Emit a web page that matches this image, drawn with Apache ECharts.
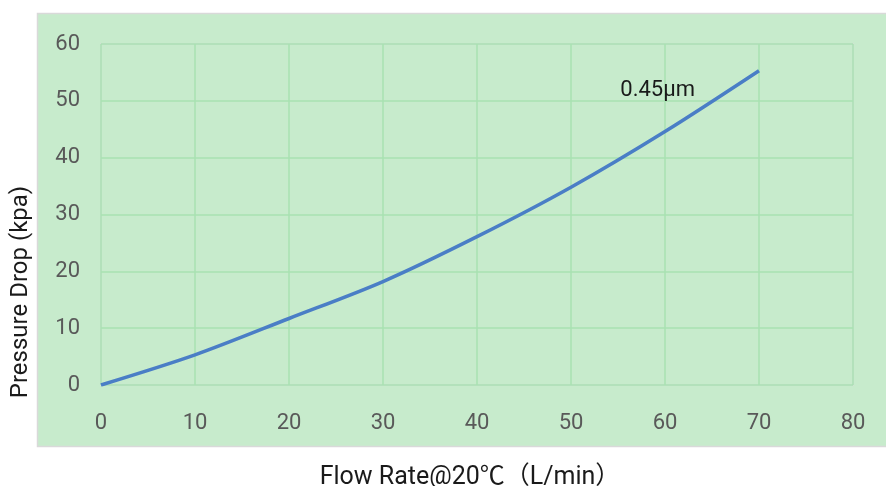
<!DOCTYPE html>
<html>
<head>
<meta charset="utf-8">
<script src="https://cdn.jsdelivr.net/npm/echarts@6/dist/echarts.min.js"></script>
<style>
html,body{margin:0;padding:0;background:#ffffff;}
#chart{width:886px;height:486px;}
</style>
</head>
<body>
<div id="chart"></div>
<script>
const seriesName = '0.45μm';
const flowRate = [0, 10, 20, 30, 40, 50, 60, 70];
const pressureDrop = [0, 5.3, 11.7, 18.2, 26.1, 34.8, 44.6, 55.3];
const xTicks = [0, 10, 20, 30, 40, 50, 60, 70, 80];
const yTicks = [0, 10, 20, 30, 40, 50, 60];
const xAxisName = 'Flow Rate@20℃（L/min）';
const yAxisName = 'Pressure Drop (kpa)';

const fontFam = 'Roboto, "Noto Sans CJK SC", sans-serif';
const lastIdx = flowRate.length - 1;
const data = flowRate.map((x, i) => {
  const item = { value: [x, pressureDrop[i]] };
  if (i === lastIdx) {
    item.label = {
      show: true,
      formatter: seriesName,
      position: 'left',
      distance: 64,
      offset: [0, 20],
      color: '#1a1a1a',
      fontSize: 22,
      fontFamily: fontFam
    };
  }
  return item;
});

const chart = echarts.init(document.getElementById('chart'), null, { renderer: 'canvas' });
chart.setOption({
  animation: false,
  backgroundColor: '#ffffff',
  graphic: {
    elements: [{
      type: 'rect',
      z: -10,
      silent: true,
      shape: { x: 37.5, y: 13.5, width: 870, height: 433 },
      style: { fill: '#c7ebcc', stroke: '#d9d9d9', lineWidth: 1.5 }
    }, {
      type: 'text',
      silent: true,
      x: 21, y: 292,
      rotation: Math.PI / 2,
      style: {
        text: yAxisName, fill: '#1a1a1a', fontSize: 24, fontFamily: fontFam,
        align: 'center', verticalAlign: 'middle'
      }
    }]
  },
  grid: {
    left: 101, right: 33, top: 44, bottom: 101,
    outerBoundsMode: 'none',
    containLabel: false,
    show: true, borderColor: '#d9d9d9', borderWidth: 1.5, backgroundColor: 'transparent'
  },
  xAxis: {
    type: 'value',
    min: xTicks[0], max: xTicks[xTicks.length - 1], interval: 10,
    name: xAxisName,
    nameLocation: 'middle',
    nameGap: 80,
    nameTextStyle: { color: '#1a1a1a', fontSize: 25, fontFamily: fontFam, padding: [0, 14, 0, 0] },
    axisLine: { show: false },
    axisTick: { show: false },
    axisLabel: { color: '#595959', fontSize: 22, fontFamily: fontFam, margin: 27 },
    splitLine: { show: true, lineStyle: { color: '#a8e2b2', width: 1.5 } }
  },
  yAxis: {
    type: 'value',
    min: yTicks[0], max: yTicks[yTicks.length - 1], interval: 10,
    axisLine: { show: false },
    axisTick: { show: false },
    axisLabel: { color: '#595959', fontSize: 22, fontFamily: fontFam, margin: 21, padding: [6, 0, 0, 0] },
    splitLine: { show: true, lineStyle: { color: '#a8e2b2', width: 1.5 } }
  },
  series: [{
    name: seriesName,
    type: 'line',
    data: data,
    smooth: 0.3,
    showSymbol: true,
    symbol: 'circle',
    symbolSize: 0.1,
    itemStyle: { color: '#4a7ec6' },
    lineStyle: { color: '#4a7ec6', width: 3.5 },
    z: 5
  }]
});
</script>
</body>
</html>
